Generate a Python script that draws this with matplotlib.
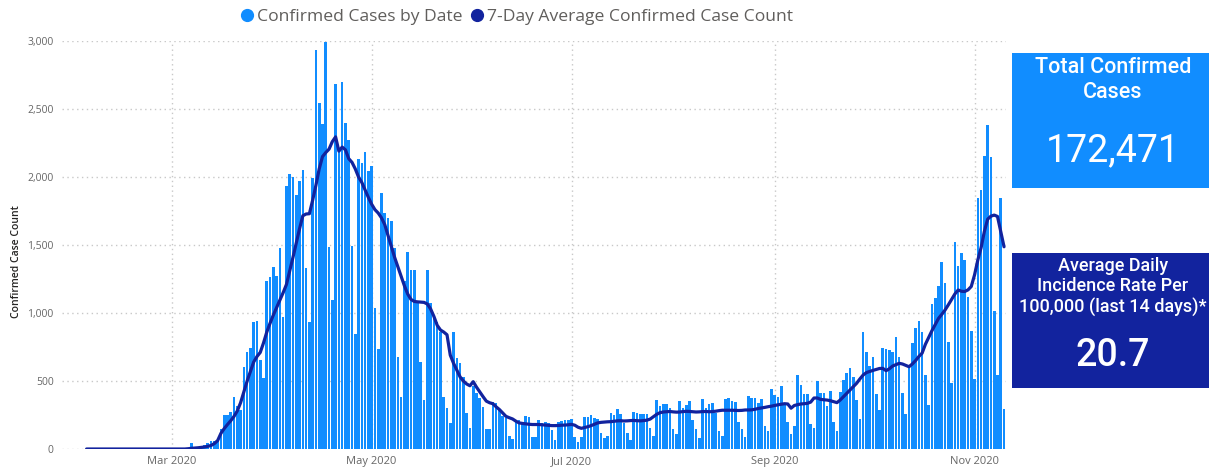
import matplotlib
matplotlib.use("Agg")
import matplotlib.pyplot as plt
import matplotlib.dates as mdates
import pandas as pd
from matplotlib.lines import Line2D
from matplotlib.patches import Rectangle
from matplotlib.ticker import FuncFormatter

# daily values, one per day starting 2020-02-04
start_date = "2020-02-04"
daily_cases = (
    [0] * 26
    + [0, 1, 2, 3, 5, 4, 42, 8, 12, 18, 30]
    + [45, 60, 62, 60]
    + [145, 248, 248, 274, 384, 315, 285, 605, 713, 745, 931, 942, 654, 520, 1235, 1266, 1335, 1272, 1475, 968]
    + [1935, 2020, 2000, 1865, 1972, 2050]
    + [1333, 936, 1990, 2931, 2547, 2392, 2995, 1488, 1093, 2686]
    + [2200, 2700, 2400, 2270, 1490, 845, 2130, 2100, 2185, 2046]
    + [2083, 1035, 735, 1879, 1732, 1696, 1678, 1480, 678, 384]
    + [1235, 1450, 1316, 1316, 1080, 642, 360, 1316, 1070, 973]
    + [936, 862, 385, 299, 194, 862, 672, 635, 530, 265]
    + [152, 465, 415, 375, 310, 145, 145, 345, 335, 290]
    + [240, 225, 95, 70, 201, 213, 201, 243, 238, 91]
    + [86, 213, 194, 201, 189, 140, 66, 201, 205, 213]
    + [213, 218, 91, 54, 91, 238, 238, 250, 230, 218]
    + [115, 78, 95, 262, 250, 294, 255, 190, 120, 68]
    + [274, 262, 255, 255, 255, 152, 97, 358, 317, 331]
    + [330, 300, 150, 108, 355, 305, 325, 355, 210, 150]
    + [78, 366, 299, 333, 340, 265, 130, 95, 366, 378]
    + [350, 345, 200, 150, 88, 392, 377, 377, 341, 365]
    + [172, 132, 439, 397, 385, 463, 323, 196, 108, 169]
    + [541, 468, 402, 402, 184, 157, 502, 414, 409, 316]
    + [429, 196, 135, 421, 507, 556, 593, 532, 360, 218]
    + [862, 715, 610, 674, 402, 287, 740, 735, 728, 715]
    + [826, 679, 409, 257, 605, 782, 892, 943, 858, 544]
    + [323, 1066, 1112, 1198, 1372, 1223, 789, 483, 1519, 1348]
    + [1438, 1389, 1120, 867, 515, 1847, 1904, 2156, 2381, 2149]
    + [1017, 544, 1847, 294]
)

avg_cases = (
    [0] * 31
    + [2, 5, 7, 9, 12, 15, 20, 26, 40, 62]
    + [115, 150, 180, 208, 240, 280, 340, 420, 500, 570]
    + [640, 680, 710, 780, 860, 925, 985, 1040, 1095, 1150]
    + [1210, 1310, 1410, 1515, 1620, 1715, 1728, 1730, 1830, 1940]
    + [2060, 2150, 2180, 2205, 2260, 2295, 2190, 2220, 2200, 2135]
    + [2108, 2060, 2000, 1960, 1905, 1850, 1800, 1760, 1735, 1700]
    + [1650, 1570, 1490, 1410, 1340, 1270, 1200, 1140, 1100, 1085]
    + [1082, 1080, 1078, 1066, 1030, 975, 910, 875, 860, 840]
    + [690, 630, 580, 530, 500, 478, 465, 495, 455, 420]
    + [385, 352, 340, 333, 310, 290, 265, 240, 230, 221]
    + [205, 192, 188, 185, 182, 180, 180, 180, 178, 176]
    + [174, 172, 172, 173, 175, 176, 178, 181, 175, 160]
    + [152, 158, 164, 172, 182, 192, 196, 198, 200, 201]
    + [204, 207, 208, 206, 207, 209, 210, 208, 207, 209]
    + [212, 220, 238, 255, 267, 272, 274, 276, 273, 271]
    + [272, 275, 277, 276, 274, 272, 273, 275, 276, 274]
    + [275, 278, 282, 285, 285, 285, 285, 284, 283, 284]
    + [287, 287, 288, 292, 298, 302, 306, 311, 315, 320]
    + [325, 329, 333, 331, 300, 320, 326, 331, 333, 336]
    + [345, 375, 375, 365, 362, 360, 355, 348, 341, 360]
    + [385, 410, 434, 458, 483, 515, 544, 562, 570, 578]
    + [585, 592, 593, 576, 590, 610, 620, 630, 625, 615]
    + [605, 625, 650, 680, 705, 770, 820, 870, 915, 960]
    + [990, 1022, 1060, 1100, 1140, 1169, 1160, 1158, 1170, 1195]
    + [1280, 1390, 1480, 1600, 1690, 1712, 1720, 1710, 1600, 1487]
)

month_ticks = ["2020-03-01", "2020-05-01", "2020-07-01", "2020-09-01", "2020-11-01"]
y_ticks = [0, 500, 1000, 1500, 2000, 2500, 3000]
legend_labels = ["Confirmed Cases by Date", "7-Day Average Confirmed Case Count"]
total_cases = 172471
incidence_rate = 20.7

BAR_COLOR = "#118DFF"
LINE_COLOR = "#12239E"
TEXT_GREY = "#666666"

W, H = 1209, 467
dates = pd.date_range(start_date, periods=len(daily_cases), freq="D")

fig = plt.figure(figsize=(W / 100, H / 100), dpi=100)
ax = fig.add_axes([62 / W, 1 - 449 / H, 944 / W, 408 / H])

ax.bar(dates, daily_cases, width=0.8, color=BAR_COLOR, zorder=2)
ax.plot(dates, avg_cases, color=LINE_COLOR, lw=2.3, zorder=3, solid_capstyle="round")

ref = pd.Timestamp("2020-03-01")
ax.set_xlim(ref - pd.Timedelta(days=33.5), ref + pd.Timedelta(days=254.6))
ax.set_ylim(0, 3000)

ax.set_xticks([pd.Timestamp(t) for t in month_ticks])
ax.xaxis.set_major_formatter(mdates.DateFormatter("%b %Y"))
ax.set_yticks(y_ticks)
ax.yaxis.set_major_formatter(FuncFormatter(lambda v, p: f"{int(v):,}"))

ax.grid(True, linestyle=(0, (1, 2.5)), color="#c8c8c8", lw=1)
ax.set_axisbelow(True)
for s in ax.spines.values():
    s.set_visible(False)
ax.tick_params(length=0, labelsize=7.5, colors=TEXT_GREY)
ax.tick_params(axis="y", pad=6)
ax.tick_params(axis="x", pad=5, labelsize=8)
for lbl in ax.get_xticklabels() + ax.get_yticklabels():
    lbl.set_family("Open Sans")

fig.text(17 / W, 1 - 262 / H, "Confirmed Case Count", rotation=90, ha="center", va="center",
         fontsize=7.5, color="#252423", family="Open Sans", weight="semibold")

handles = [
    Line2D([], [], marker="o", linestyle="None", color=BAR_COLOR, markersize=8.5),
    Line2D([], [], marker="o", linestyle="None", color=LINE_COLOR, markersize=8.5),
]
fig.legend(handles, legend_labels, loc="center", bbox_to_anchor=(515 / W, 1 - 17 / H), ncol=2,
           frameon=False, handletextpad=0.0, columnspacing=0.3, handlelength=1.1,
           prop={"family": "Open Sans", "size": 12.6}, labelcolor="#605E5C")

# KPI cards on the right
fig.add_artist(Rectangle((1012 / W, 1 - 188 / H), 197 / W, 135 / H, transform=fig.transFigure,
                         color=BAR_COLOR, lw=0))
fig.add_artist(Rectangle((1012 / W, 1 - 388 / H), 197 / W, 135 / H, transform=fig.transFigure,
                         color=LINE_COLOR, lw=0))

cx = 1113 / W
fig.text(cx, 1 - 80 / H, "Total Confirmed\nCases", ha="center", va="center", color="white",
         fontsize=15.5, family="Roboto", weight="medium", linespacing=1.25)
fig.text(cx, 1 - 151 / H, f"{total_cases:,}", ha="center", va="center", color="white",
         fontsize=27, family="Roboto")
fig.text(cx, 1 - 287 / H, "Average Daily\nIncidence Rate Per\n100,000 (last 14 days)*",
         ha="center", va="center", color="white", fontsize=13, family="Roboto",
         weight="medium", linespacing=1.2)
fig.text(cx, 1 - 356 / H, f"{incidence_rate}", ha="center", va="center", color="white",
         fontsize=27, family="Roboto", weight="medium")

fig.savefig("out.png", dpi=100)
